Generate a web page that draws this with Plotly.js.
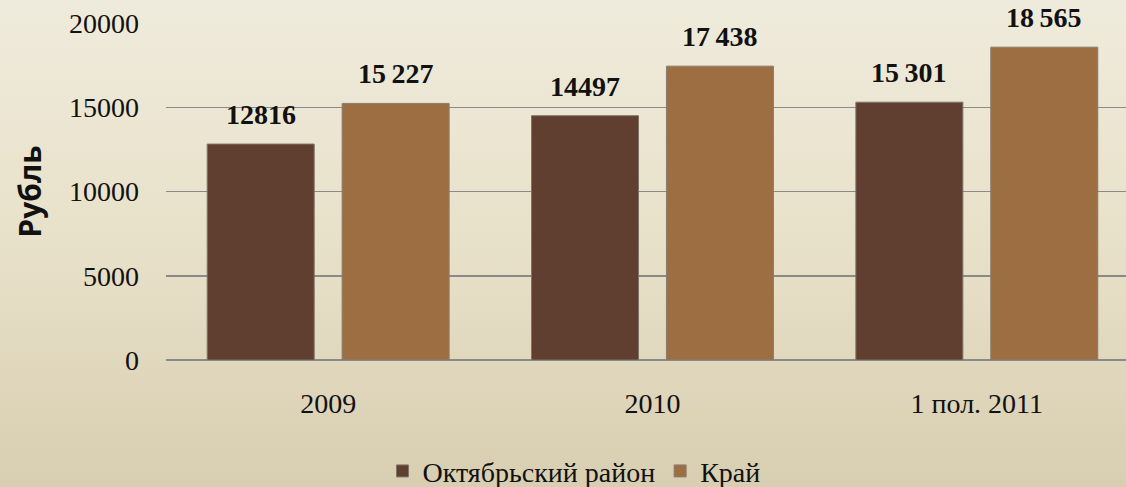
<!DOCTYPE html>
<html>
<head>
<meta charset="utf-8">
<script src="https://cdn.plot.ly/plotly-3.0.1.min.js"></script>
<style>
html,body{margin:0;padding:0;}
body{width:1126px;height:487px;background:linear-gradient(to bottom,#efebdc 0%,#e8e1c9 50%,#d8ceb1 100%);}
#chart{width:1126px;height:487px;}
</style>
</head>
<body>
<div id="chart"></div>
<script>
const categories = ['2009', '2010', '1 пол. 2011'];
const seriesNames = ['Октябрьский район', 'Край'];
const districtValues = [12816, 14497, 15301];
const regionValues = [15227, 17438, 18565];
const districtLabels = ['12816', '14497', '15\u2009301'];
const regionLabels = ['15\u2009227', '17\u2009438', '18\u2009565'];
const yTicks = [0, 5000, 10000, 15000, 20000];

const serif = 'Liberation Serif';
const colors = ['#603e30', '#9d6e41'];

const traces = [
  {type:'bar', name:seriesNames[0], x:categories, y:districtValues,
   marker:{color:colors[0], line:{color:'#7d7468', width:1}}, hoverinfo:'skip'},
  {type:'bar', name:seriesNames[1], x:categories, y:regionValues,
   marker:{color:colors[1], line:{color:'#8a7d6c', width:1}}, hoverinfo:'skip'}
];

const offset = 0.208;
const annotations = [];
categories.forEach((c, i) => {
  annotations.push({x:i - offset, y:districtValues[i], text:'<b>'+districtLabels[i]+'</b>', showarrow:false,
    yanchor:'bottom', yshift:12, font:{family:serif, size:28, color:'#111'}});
  annotations.push({x:i + offset, y:regionValues[i], text:'<b>'+regionLabels[i]+'</b>', showarrow:false,
    yanchor:'bottom', yshift:12, font:{family:serif, size:28, color:'#111'}});
});

const layout = {
  width:1126, height:487,
  paper_bgcolor:'rgba(0,0,0,0)', plot_bgcolor:'rgba(0,0,0,0)',
  margin:{l:166, r:0, t:23, b:127, autoexpand:false},
  barmode:'group', bargap:0.168, bargroupgap:0.207,
  font:{family:serif, size:28, color:'#111'},
  xaxis:{type:'category', range:[-0.5, 2.46], showgrid:false, showline:false, ticks:'', automargin:false,
    tickfont:{family:serif, size:28, color:'#111'}, ticklabelstandoff:24},
  yaxis:{range:[0, 20000], tickvals:yTicks, ticktext:yTicks.map(String), showgrid:true, automargin:false,
    gridcolor:'#8a8a8a', gridwidth:1.5, zeroline:true, zerolinecolor:'#8a8a8a', zerolinewidth:1.5,
    showline:false, ticks:'', ticklabelstandoff:26,
    tickfont:{family:serif, size:28, color:'#111'},
    title:{text:'<b>Рубль</b>', font:{family:'Open Sans', size:30, color:'#111'}, standoff:18}},
  legend:{orientation:'h', x:0.425, xanchor:'center', y:-0.33, yanchor:'middle',
    font:{family:serif, size:28, color:'#111'}, itemwidth:30, traceorder:'normal'},
  annotations:annotations,
  showlegend:true
};

Plotly.newPlot('chart', traces, layout, {displayModeBar:false, staticPlot:true});
</script>
</body>
</html>
